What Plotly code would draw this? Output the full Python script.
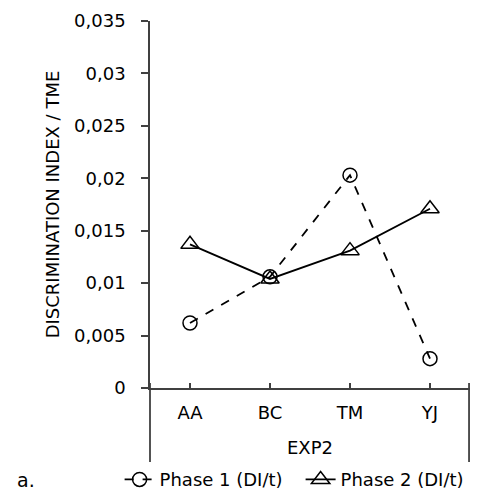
import plotly.graph_objects as go

categories = ["AA", "BC", "TM", "YJ"]
group_label = "EXP2"
phase1 = [0.0062, 0.0106, 0.0203, 0.0028]
phase2 = [0.0137, 0.0104, 0.0131, 0.0171]
y_title = "DISCRIMINATION INDEX / TME"
series_names = ["Phase 1 (DI/t)", "Phase 2 (DI/t)"]

FONT = "DejaVu Sans"
AX = "#404040"

fig = go.Figure()
fig.add_trace(go.Scatter(
    x=categories, y=phase1, name=series_names[0], mode="lines+markers",
    line=dict(color="black", width=1.8, dash="dash"),
    marker=dict(symbol="circle-open", size=14, color="black", line=dict(width=1.5)),
))
fig.add_trace(go.Scatter(
    x=categories, y=phase2, name=series_names[1], mode="lines+markers",
    line=dict(color="black", width=1.8),
    marker=dict(symbol="triangle-up-open", size=16, color="black", line=dict(width=1.5)),
))

# page has an 8px body margin: keep the page within the window (no scrollbar)
fig.update_layout(
    width=462, height=483,
    margin=dict(l=142, r=0, t=13, b=103, autoexpand=False),
    paper_bgcolor="white", plot_bgcolor="white",
    separators=",.",
    font=dict(family=FONT, size=17, color="black"),
    showlegend=True,
    legend=dict(orientation="h", x=-0.095, y=-0.25, xanchor="left", yanchor="middle",
                font=dict(size=18), itemwidth=30, tracegroupgap=0,
                entrywidth=136, entrywidthmode="pixels",
                bgcolor="rgba(0,0,0,0)"),
    xaxis=dict(
        type="category", range=[-0.5, 3.5], showgrid=False,
        showline=True, linecolor=AX, linewidth=1.5,
        ticks="inside", ticklen=5, tickcolor=AX, tickwidth=1.5,
        tickfont=dict(size=18), ticklabelstandoff=8,
    ),
    yaxis=dict(
        range=[0, 0.035], dtick=0.005, showgrid=False, zeroline=False,
        showline=True, linecolor=AX, linewidth=1.5,
        ticks="outside", ticklen=7, tickcolor=AX, tickwidth=1.5,
        tickfont=dict(size=18), ticklabelstandoff=12,
        title=dict(text=y_title, font=dict(size=18), standoff=10),
    ),
)

# group box lines below the category axis (left continues the y axis, right closes the group)
for xp in (0, 0.997):
    fig.add_shape(type="line", xref="paper", yref="paper",
                  x0=xp, x1=xp, y0=0.0136, y1=-0.2016,
                  line=dict(color=AX, width=1.8))

fig.add_annotation(text=group_label, xref="paper", yref="paper", x=0.5, y=-0.163,
                   showarrow=False, font=dict(size=18), xanchor="center", yanchor="middle")
fig.add_annotation(text="a.", xref="paper", yref="paper", x=-0.387, y=-0.25,
                   showarrow=False, font=dict(size=19), xanchor="center", yanchor="middle")

fig.write_html("out.html")
